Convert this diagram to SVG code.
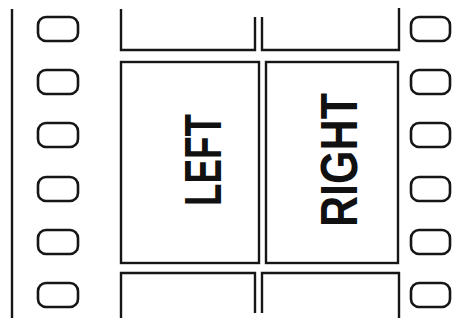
<svg xmlns="http://www.w3.org/2000/svg" width="472" height="320" viewBox="0 0 472 320">
  <style>
    .ln { fill: none; stroke: #161616; stroke-width: 2.4; stroke-linecap: butt; stroke-linejoin: miter; }
    .hole { fill: none; stroke: #161616; stroke-width: 2.6; }
    .lbl { font-family: "Liberation Sans", Arial, sans-serif; font-weight: bold; font-size: 52px; fill: #111; text-anchor: middle; }
  </style>
  <rect width="472" height="320" fill="#ffffff"/>
  <g id="strip-edge">
    <line class="ln" x1="12" y1="9" x2="12" y2="318"/>
  </g>
  <g id="holes-left">
    <rect class="hole" x="38" y="17" width="40" height="24" rx="8"/>
    <rect class="hole" x="38" y="70" width="40" height="24" rx="8"/>
    <rect class="hole" x="38" y="123" width="40" height="24" rx="8"/>
    <rect class="hole" x="38" y="177" width="40" height="24" rx="8"/>
    <rect class="hole" x="38" y="230" width="40" height="24" rx="8"/>
    <rect class="hole" x="38" y="283" width="40" height="24" rx="8"/>
  </g>
  <g id="holes-right">
    <rect class="hole" x="411" y="17" width="39" height="24" rx="8"/>
    <rect class="hole" x="411" y="70" width="39" height="24" rx="8"/>
    <rect class="hole" x="411" y="123" width="39" height="24" rx="8"/>
    <rect class="hole" x="411" y="177" width="39" height="24" rx="8"/>
    <rect class="hole" x="411" y="230" width="39" height="24" rx="8"/>
    <rect class="hole" x="411" y="283" width="39" height="24" rx="8"/>
  </g>
  <g id="frames-top">
    <path class="ln" d="M121,9 V50 H255 V17"/>
    <path class="ln" d="M262,17 V50 H399 V8"/>
  </g>
  <g id="frame-left">
    <rect class="ln" x="121" y="62" width="138" height="201"/>
    <text class="lbl" transform="translate(221,160) rotate(-90)" textLength="92" lengthAdjust="spacingAndGlyphs">LEFT</text>
  </g>
  <g id="frame-right">
    <rect class="ln" x="266" y="62" width="132" height="201"/>
    <text class="lbl" transform="translate(357,160) rotate(-90)" textLength="134" lengthAdjust="spacingAndGlyphs">RIGHT</text>
  </g>
  <g id="frames-bottom">
    <path class="ln" d="M121,318 V273 H255 V313"/>
    <path class="ln" d="M262,313 V273 H399 V318"/>
  </g>
</svg>
